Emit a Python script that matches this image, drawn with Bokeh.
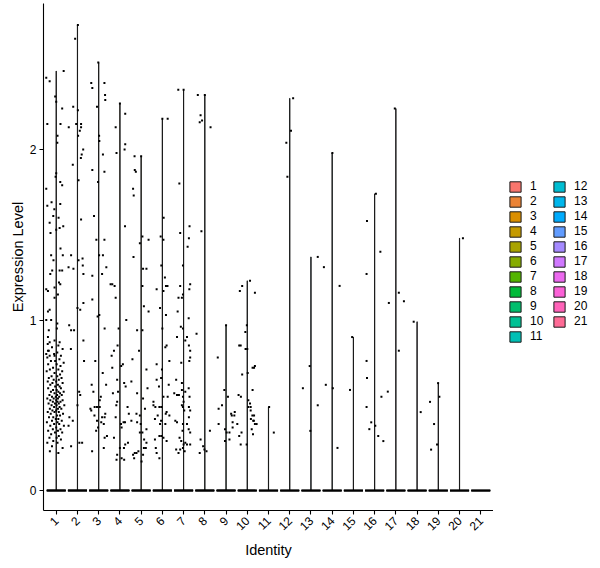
import math
from bokeh.plotting import figure
from bokeh.layouts import row
from bokeh.models import Range1d, FixedTicker, Legend, LegendItem
from bokeh.embed import file_html
from bokeh.resources import INLINE

# ---------------- data ----------------
identities = ["1", "2", "3", "4", "5", "6", "7", "8", "9", "10", "11",
              "12", "13", "14", "15", "16", "17", "18", "19", "20", "21"]
y_ticks = [0, 1, 2]
x_title = "Identity"
y_title = "Expression Level"

# (jitter offset in category units, expression level) of each non-zero cell
pts_1 = [(-0.47, 2.42), (-0.31, 2.40), (0.35, 2.46), (-0.05, 2.31), (0.00, 2.28), (0.28, 2.24),
         (-0.42, 2.15), (0.20, 2.15), (0.06, 2.08), (0.05, 2.04), (-0.47, 1.77), (0.00, 1.86),
         (-0.03, 1.84), (0.19, 1.81), (0.28, 1.79), (-0.42, 1.67), (-0.22, 1.69), (0.19, 1.68),
         (-0.09, 1.65), (-0.14, 1.61), (0.11, 1.60), (-0.31, 1.57), (0.16, 1.54), (0.00, 1.53),
         (0.33, 1.55), (-0.27, 1.51), (0.20, 1.42), (-0.24, 1.38), (-0.13, 1.35), (-0.28, 1.27),
         (-0.19, 1.29), (-0.47, 1.18), (-0.39, 1.17), (0.19, 1.21), (0.13, 1.22), (-0.08, 1.19),
         (0.28, 1.29), (0.31, 1.38), (0.16, 1.29), (0.08, 1.15), (-0.08, 1.13), (-0.31, 1.06),
         (-0.39, 1.05), (-0.47, 1.00), (-0.24, 1.00), (0.05, 0.98), (-0.35, 0.94), (-0.39, 0.90),
         (0.03, 0.95), (-0.08, 0.88), (0.16, 0.87), (-0.31, 0.87), (-0.39, 0.82), (-0.47, 0.80),
         (-0.31, 0.79), (-0.08, 0.79),
         (-0.40, 0.86), (0.10, 0.85), (-0.20, 0.84), (0.30, 0.83), (-0.35, 0.82), (0.05, 0.81),
         (-0.10, 0.80), (0.22, 0.79), (-0.42, 0.78), (0.15, 0.77), (-0.25, 0.76), (-0.05, 0.76),
         (0.35, 0.75), (-0.38, 0.74), (0.02, 0.74), (0.20, 0.73), (-0.15, 0.72), (-0.30, 0.71),
         (0.10, 0.71), (0.28, 0.70), (-0.45, 0.70), (-0.08, 0.69), (0.18, 0.68), (-0.22, 0.67),
         (0.05, 0.67), (-0.35, 0.66), (0.25, 0.66), (-0.12, 0.65), (0.12, 0.65), (-0.40, 0.64),
         (0.00, 0.64), (0.30, 0.63), (-0.18, 0.63), (0.08, 0.62), (-0.28, 0.62), (0.16, 0.61),
         (-0.05, 0.61), (-0.38, 0.60), (0.22, 0.60), (0.02, 0.59), (-0.15, 0.59), (0.35, 0.58),
         (-0.25, 0.58), (0.10, 0.58), (-0.08, 0.57), (0.18, 0.57), (-0.32, 0.56), (0.04, 0.56),
         (0.26, 0.56), (-0.20, 0.55), (-0.02, 0.55), (0.14, 0.55), (-0.42, 0.54), (0.08, 0.54),
         (-0.12, 0.54), (0.30, 0.53), (-0.28, 0.53), (0.00, 0.53), (0.20, 0.52), (-0.16, 0.52),
         (0.06, 0.52), (-0.36, 0.51), (0.12, 0.51), (-0.06, 0.51), (0.38, 0.50), (-0.22, 0.50),
         (0.02, 0.50), (0.16, 0.49), (-0.10, 0.49), (-0.30, 0.48), (0.08, 0.48), (0.24, 0.48),
         (-0.18, 0.47), (0.00, 0.47), (-0.40, 0.46), (0.12, 0.46), (-0.08, 0.46), (0.32, 0.45),
         (-0.26, 0.45), (0.04, 0.44), (0.18, 0.44), (-0.14, 0.43), (-0.34, 0.43), (0.10, 0.42),
         (-0.02, 0.42), (0.26, 0.41), (-0.20, 0.41), (0.06, 0.40), (-0.44, 0.40), (0.14, 0.39),
         (-0.10, 0.39), (0.36, 0.38), (-0.28, 0.38), (0.00, 0.37), (0.20, 0.36), (-0.16, 0.36),
         (-0.38, 0.35), (0.08, 0.35), (0.28, 0.34), (-0.06, 0.34), (-0.24, 0.33), (0.12, 0.32),
         (-0.32, 0.31), (0.02, 0.31), (0.22, 0.30), (-0.14, 0.29), (-0.42, 0.28), (0.06, 0.28),
         (-0.20, 0.26), (0.30, 0.25), (-0.30, 0.23), (0.10, 0.22)]
pts_2 = [(0.02, 2.73), (-0.11, 2.65), (-0.20, 2.25), (0.02, 2.23), (-0.41, 2.13), (-0.06, 2.15),
         (0.17, 2.15), (0.17, 2.13), (0.11, 2.11), (0.03, 2.08), (0.27, 2.00), (0.20, 1.97),
         (0.16, 1.95), (-0.22, 1.91), (0.05, 1.82), (0.17, 1.59), (-0.30, 1.38), (0.05, 1.35),
         (0.24, 1.36), (0.25, 1.32), (-0.19, 1.30), (-0.42, 1.31), (0.28, 1.27), (0.28, 1.10),
         (0.13, 1.06), (0.00, 1.07), (-0.30, 0.94), (-0.39, 0.97), (-0.16, 0.94), (0.28, 0.88),
         (-0.31, 0.83), (0.31, 0.76), (0.08, 0.58), (0.13, 0.56), (0.00, 0.50), (-0.22, 0.41),
         (-0.42, 0.38), (-0.38, 0.43), (-0.30, 0.26), (0.09, 0.28), (0.22, 0.28)]
pts_3 = [(-0.02, 2.51), (-0.35, 2.39), (-0.30, 2.36), (0.27, 2.39), (0.30, 2.32), (0.31, 2.29),
         (-0.08, 2.25), (0.02, 2.08), (0.03, 2.05), (0.20, 1.97), (-0.30, 1.88), (0.27, 1.87),
         (-0.03, 1.81), (-0.22, 1.61), (-0.11, 1.47), (0.27, 1.47), (0.02, 1.38), (0.20, 1.38),
         (0.36, 1.31), (0.16, 1.27), (-0.30, 1.26), (-0.05, 1.02), (0.03, 1.03), (-0.30, 1.12),
         (0.28, 0.95), (-0.33, 0.62), (-0.08, 0.49), (-0.19, 0.49), (0.05, 0.49), (-0.39, 0.48),
         (-0.35, 0.47), (0.16, 0.43), (0.28, 0.43), (0.31, 0.45), (-0.03, 0.37), (0.28, 0.31),
         (-0.08, 0.41), (0.24, 0.39), (-0.31, 0.23), (0.24, 0.25), (0.39, 0.32), (0.05, 0.53),
         (0.19, 0.69), (-0.16, 0.76), (-0.25, 0.58), (0.10, 0.55), (-0.12, 0.35), (0.35, 0.62),
         (-0.20, 0.44), (0.12, 0.40)]
pts_4 = [(0.00, 2.27), (0.25, 2.21), (-0.20, 2.13), (0.25, 2.03), (0.22, 2.00), (-0.16, 1.98),
         (0.24, 1.55), (-0.36, 1.21), (-0.25, 1.20), (-0.44, 1.21), (-0.20, 1.13), (-0.06, 0.95),
         (0.30, 1.00), (-0.11, 0.85), (-0.28, 0.82), (-0.39, 0.79), (-0.36, 0.72), (0.06, 0.73),
         (0.14, 0.74), (-0.13, 0.65), (0.20, 0.63), (0.27, 0.61), (-0.09, 0.58), (-0.33, 0.57),
         (-0.13, 0.52), (-0.17, 0.50), (0.05, 0.39), (0.17, 0.40), (0.24, 0.40), (0.36, 0.49),
         (0.08, 0.37), (0.19, 0.25), (0.25, 0.27), (0.38, 0.28), (0.00, 0.25), (-0.13, 0.21),
         (0.08, 0.19), (0.20, 0.18), (-0.16, 0.18), (0.42, 0.45), (-0.28, 0.31), (-0.20, 0.43)]
pts_5 = [(0.00, 1.96), (-0.31, 1.96), (-0.30, 1.88), (-0.25, 1.87), (-0.38, 1.77), (-0.35, 1.73),
         (0.06, 1.49), (0.35, 1.47), (-0.06, 1.45), (-0.36, 1.37), (0.09, 1.30), (0.25, 1.30),
         (0.06, 1.20), (-0.19, 0.94), (0.06, 0.94), (0.13, 1.08), (0.35, 1.05), (-0.41, 0.77),
         (0.25, 0.71), (-0.19, 0.57), (0.09, 0.54), (-0.22, 0.45), (-0.06, 0.44), (0.25, 0.36),
         (-0.06, 0.34), (0.06, 0.34), (0.14, 0.30), (0.25, 0.28), (0.22, 0.25), (0.09, 0.21),
         (0.02, 0.17), (-0.30, 0.22), (-0.38, 0.21), (-0.22, 0.22), (-0.33, 0.19), (-0.13, 0.23),
         (-0.46, 0.64), (-0.46, 0.41), (-0.19, 0.40), (0.13, 0.25), (-0.02, 0.39), (0.30, 0.60),
         (-0.10, 0.82), (0.18, 0.48)]
pts_6 = [(0.00, 2.18), (0.25, 2.18), (0.06, 1.60), (-0.08, 1.49), (-0.27, 1.18), (0.05, 1.17),
         (0.17, 1.20), (0.24, 1.20), (-0.11, 1.07), (0.17, 1.03), (0.00, 0.95), (0.14, 0.84),
         (0.20, 0.85), (0.33, 0.76), (-0.27, 0.74), (-0.02, 0.71), (-0.27, 0.65), (-0.06, 0.66),
         (-0.16, 0.61), (-0.42, 0.52), (-0.42, 0.50), (-0.33, 0.49), (-0.14, 0.49), (-0.05, 0.49),
         (0.05, 0.55), (0.16, 0.45), (0.20, 0.46), (-0.22, 0.44), (-0.35, 0.42), (-0.11, 0.39),
         (-0.14, 0.32), (-0.05, 0.32), (0.05, 0.31), (0.20, 0.29), (-0.31, 0.25), (-0.27, 0.22),
         (-0.14, 0.19), (0.25, 0.55), (0.33, 0.44), (-0.06, 0.41), (0.14, 0.39), (-0.35, 0.30),
         (0.30, 0.62), (0.05, 1.47), (-0.05, 1.32), (0.12, 1.25)]
pts_7 = [(0.00, 2.35), (-0.25, 2.35), (-0.20, 1.80), (-0.16, 1.51), (0.28, 1.55), (0.25, 1.48),
         (0.19, 1.43), (-0.03, 1.32), (0.31, 1.21), (0.27, 1.18), (-0.16, 1.20), (-0.24, 1.13),
         (-0.08, 1.13), (-0.03, 1.15), (-0.28, 1.05), (0.24, 1.01), (-0.13, 0.96), (-0.03, 0.95),
         (-0.31, 0.90), (0.16, 0.90), (0.25, 0.85), (0.08, 0.88), (0.31, 0.82), (0.31, 0.78),
         (0.27, 0.76), (-0.11, 0.75), (-0.35, 0.65), (-0.08, 0.63), (0.24, 0.60), (-0.08, 0.59),
         (-0.44, 0.57), (-0.31, 0.56), (-0.22, 0.56), (-0.03, 0.55), (0.08, 0.58), (0.00, 0.52),
         (0.28, 0.55), (-0.08, 0.50), (-0.03, 0.49), (0.03, 0.47), (0.25, 0.49), (0.31, 0.47),
         (0.25, 0.43), (-0.03, 0.39), (0.16, 0.39), (-0.39, 0.41), (-0.31, 0.40), (-0.05, 0.35),
         (0.24, 0.36), (0.31, 0.34), (-0.19, 0.31), (-0.11, 0.29), (0.00, 0.27), (0.08, 0.28),
         (0.16, 0.27), (0.31, 0.27), (-0.03, 0.25), (-0.16, 0.24), (0.05, 0.23), (-0.24, 0.22),
         (-0.35, 0.24)]
pts_8 = [(0.00, 2.32), (-0.33, 2.32), (-0.20, 2.20), (-0.13, 2.17), (-0.24, 2.16), (0.27, 2.13),
         (-0.16, 1.52), (-0.39, 0.92), (-0.20, 0.30), (0.08, 0.23), (-0.02, 0.24), (-0.08, 0.26),
         (-0.24, 0.22), (0.24, 0.35)]
pts_9 = [(0.00, 0.97), (-0.39, 0.78), (-0.08, 0.59), (0.09, 0.55), (-0.19, 0.50), (-0.35, 0.48),
         (-0.05, 0.36), (0.03, 0.34), (0.16, 0.30), (0.27, 0.44), (0.24, 0.45), (0.41, 0.46),
         (0.39, 0.44), (-0.05, 0.29), (0.31, 0.37), (-0.35, 0.39), (0.16, 0.34), (0.31, 0.40)]
pts_10 = [(0.13, 1.23), (0.36, 1.16), (-0.24, 1.20), (-0.35, 1.17), (-0.02, 0.97), (-0.09, 0.93),
          (-0.38, 0.85), (-0.31, 0.85), (-0.08, 0.83), (0.00, 0.83), (0.36, 0.73), (0.25, 0.72),
          (0.02, 0.69), (-0.24, 0.68), (-0.41, 0.56), (-0.30, 0.55), (0.05, 0.53), (0.13, 0.51),
          (0.05, 0.49), (0.16, 0.47), (0.24, 0.44), (-0.47, 0.39), (-0.27, 0.34), (-0.38, 0.32),
          (-0.31, 0.27), (-0.03, 0.27), (0.17, 0.42), (0.28, 0.41), (0.36, 0.39), (0.44, 0.39),
          (0.25, 0.59), (0.32, 0.72), (0.16, 0.49), (0.32, 0.44), (0.31, 0.41), (0.21, 0.36),
          (0.27, 0.33)]
pts_11 = [(0.03, 0.49), (0.25, 0.34)]
pts_12 = [(0.16, 2.30), (0.06, 2.11), (-0.16, 2.04), (-0.11, 1.84)]
pts_13 = [(-0.38, 0.60), (-0.06, 0.73), (-0.03, 0.35), (0.32, 1.37), (0.32, 0.50)]
pts_14 = [(0.01, 1.98), (-0.39, 1.31), (-0.30, 0.62), (0.03, 0.60), (0.35, 1.20), (0.25, 0.25)]
pts_15 = [(-0.06, 0.90), (-0.16, 0.59)]
pts_16 = [(0.06, 1.74), (-0.36, 1.58), (-0.38, 1.27), (0.27, 1.40), (-0.38, 0.76), (-0.36, 0.66),
          (-0.38, 0.49), (-0.16, 0.40), (-0.25, 0.36), (0.03, 0.38), (0.17, 0.32), (0.41, 0.29),
          (0.32, 0.55)]
pts_17 = [(-0.05, 2.24), (0.14, 1.16), (0.38, 1.11), (-0.33, 1.10), (0.14, 0.82), (-0.38, 0.58)]
pts_18 = [(-0.16, 0.99), (0.17, 0.46)]
pts_19 = [(-0.01, 0.63), (0.05, 0.55), (-0.39, 0.52), (-0.20, 0.39), (-0.06, 0.27), (-0.34, 0.24)]
pts_20 = [(0.16, 1.48)]
pts_21 = []

points = [pts_1, pts_2, pts_3, pts_4, pts_5, pts_6, pts_7, pts_8, pts_9, pts_10, pts_11,
          pts_12, pts_13, pts_14, pts_15, pts_16, pts_17, pts_18, pts_19, pts_20, pts_21]


# ---------------- style helpers ----------------
def hcl_hex(h, c=100.0, l=65.0):
    """ggplot2 hue palette colour (polar LUV -> sRGB)."""
    hr = math.radians(h)
    U, V = c * math.cos(hr), c * math.sin(hr)
    Xn, Yn, Zn = 95.047, 100.0, 108.883
    Y = Yn * ((l + 16.0) / 116.0) ** 3
    den = Xn + 15 * Yn + 3 * Zn
    un, vn = 4 * Xn / den, 9 * Yn / den
    u = U / (13 * l) + un
    v = V / (13 * l) + vn
    X = 9.0 * Y * u / (4 * v)
    Z = Y * (12 - 3 * u - 20 * v) / (4 * v)
    x, y, z = X / 100, Y / 100, Z / 100
    rgb = [3.2404542 * x - 1.5371385 * y - 0.4985314 * z,
           -0.9692660 * x + 1.8760108 * y + 0.0415560 * z,
           0.0556434 * x - 0.2040259 * y + 1.0572252 * z]
    out = []
    for ch in rgb:
        ch = 12.92 * ch if ch <= 0.0031308 else 1.055 * ch ** (1 / 2.4) - 0.055
        out.append(int(round(min(max(ch, 0.0), 1.0) * 255)))
    return "#%02X%02X%02X" % tuple(out)


n = len(identities)
colors = [hcl_hex(15 + k * 360.0 / n) for k in range(n)]
FONT = "Liberation Sans"
OUTLINE = "#1a1a1a"
half_w = 0.45

# violin outlines (collapsed: a thin tail from zero up to the maximum)
violin_xs, violin_ys = [], []
for k, pts in enumerate(points):
    cx = k + 1
    top = max([v for _, v in pts]) if pts else 0.0
    violin_xs.append([cx - half_w, cx + half_w, cx + 0.004, cx + 0.004, cx - 0.004, cx - 0.004])
    violin_ys.append([0.0, 0.0, 0.0, top, top, 0.0])

# ---------------- main panel ----------------
fig = figure(width=493, height=568, output_backend="svg", toolbar_location=None,
             x_range=Range1d(0.4, n + 0.6), y_range=Range1d(-0.117, 2.856),
             min_border_left=43, min_border_right=0, min_border_top=3, min_border_bottom=58)
fig.background_fill_color = "white"
fig.border_fill_color = "white"
fig.outline_line_color = None
fig.xgrid.visible = False
fig.ygrid.visible = False

for k in range(n):
    fig.patch(violin_xs[k], violin_ys[k], fill_color=colors[k], line_color=OUTLINE, line_width=1.0)

# cells with zero expression: a dense jittered band at 0
fig.segment(x0=[k + 1 - half_w for k in range(n)], y0=[0] * n,
            x1=[k + 1 + half_w for k in range(n)], y1=[0] * n,
            line_color="black", line_width=2.4)

# jittered non-zero cells
px, py = [], []
for k, pts in enumerate(points):
    for dx, v in pts:
        px.append(k + 1 + dx)
        py.append(v)
fig.scatter(px, py, marker="square", size=2, color="black", line_width=0)

# axes
for ax in (fig.xaxis[0], fig.yaxis[0]):
    ax.axis_line_color = "black"
    ax.axis_line_width = 1.1
    ax.major_tick_line_color = "black"
    ax.major_tick_line_width = 1.1
    ax.major_tick_out = 4
    ax.major_tick_in = 0
    ax.minor_tick_line_color = None
    ax.major_label_text_font = FONT
    ax.major_label_text_font_size = "12px"
    ax.major_label_text_color = "black"
    ax.axis_label_text_font = FONT
    ax.axis_label_text_font_size = "14.5px"
    ax.axis_label_text_font_style = "normal"
    ax.axis_label_text_color = "black"

fig.xaxis.ticker = FixedTicker(ticks=list(range(1, n + 1)))
fig.xaxis.major_label_overrides = {k + 1: identities[k] for k in range(n)}
fig.xaxis.major_label_orientation = math.pi / 4
fig.xaxis.major_label_standoff = 4
fig.xaxis.axis_label = x_title
fig.xaxis.axis_label_standoff = 5

fig.yaxis.ticker = FixedTicker(ticks=y_ticks)
fig.yaxis.major_label_standoff = 3
fig.yaxis.axis_label = y_title
fig.yaxis.axis_label_standoff = 1

# ---------------- legend panel ----------------
# the same violins are drawn here outside the visible range, only to feed the legend keys
leg = figure(width=107, height=568, output_backend="svg", toolbar_location=None,
             x_axis_type=None, y_axis_type=None,
             x_range=Range1d(-20, -10), y_range=Range1d(-20, -10),
             min_border_left=0, min_border_right=0, min_border_top=0, min_border_bottom=0)
leg.outline_line_color = None
leg.background_fill_color = "white"
leg.border_fill_color = "white"
leg.xgrid.visible = False
leg.ygrid.visible = False

items = []
for k in range(n):
    r = leg.patch(violin_xs[k], violin_ys[k], fill_color=colors[k],
                  line_color=OUTLINE, line_width=1.0)
    items.append(LegendItem(label=identities[k], renderers=[r]))

legend = Legend(items=items, ncols=2, location=(15, 167), margin=0, padding=0,
                spacing=1, glyph_width=14, glyph_height=13, label_height=13,
                label_width=21, label_standoff=8,
                label_text_font=FONT, label_text_font_size="12px",
                label_text_color="black",
                border_line_color=None, background_fill_alpha=0)
leg.add_layout(legend)

p = row(fig, leg)

open("out.html", "w").write(file_html(p, INLINE))
